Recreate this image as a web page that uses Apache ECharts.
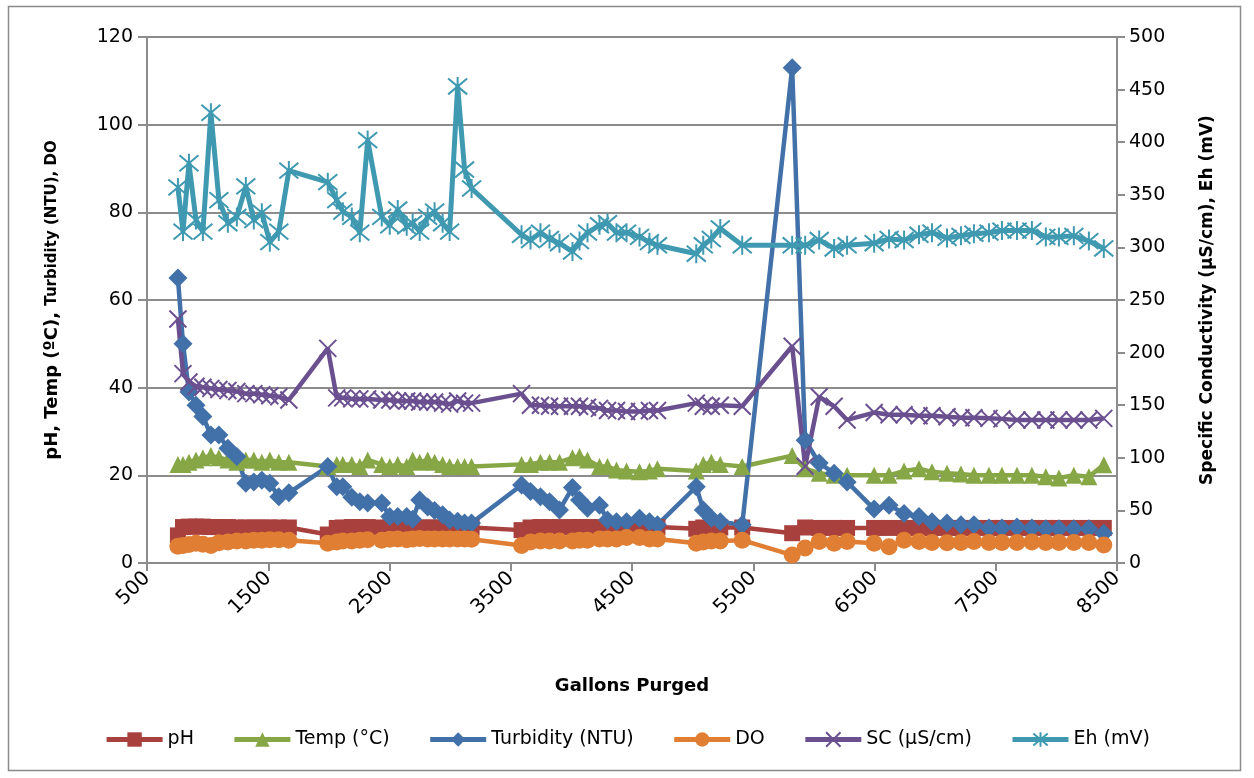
<!DOCTYPE html>
<html>
<head>
<meta charset="utf-8">
<script src="https://cdn.jsdelivr.net/npm/echarts@6/dist/echarts.min.js"></script>
<style>
html,body{margin:0;padding:0;background:#fff;}
#chart{width:1254px;height:778px;}
</style>
</head>
<body>
<div id="chart"></div>
<script>
// Gallons purged (shared x values)
const gallons = [
  755, 797, 846, 904, 961, 1027, 1093, 1167, 1241, 1315, 1381, 1447, 1513, 1587, 1670,
  1991, 2065, 2115, 2189, 2255, 2320, 2436, 2502, 2568, 2642, 2691, 2749, 2815, 2872, 2938, 2996, 3062, 3119, 3177,
  3589, 3663, 3745, 3820, 3902, 4009, 4067, 4133, 4232, 4298, 4372, 4455, 4562, 4644, 4710,
  5030, 5088, 5154, 5228, 5409,
  5821,
  5928, 6044, 6167, 6274, 6497, 6620, 6744, 6867, 6974, 7098, 7213, 7320, 7444, 7551, 7675, 7798, 7913, 8021, 8144, 8268, 8391
];
const pH = [
  6.3, 8.2, 8.3, 8.3, 8.3, 8.2, 8.2, 8.2, 8.1, 8.1, 8.1, 8.1, 8.1, 8.1, 8.1,
  6.5, 8.0, 8.1, 8.2, 8.2, 8.2, 8.1, 8.1, 8.1, 8.1, 8.1, 8.1, 8.1, 8.1, 8.1, 8.1, 8.1, 8.1, 8.1,
  7.5, 8.1, 8.2, 8.2, 8.2, 8.2, 8.2, 8.2, 8.2, 8.2, 8.2, 8.2, 8.2, 8.2, 8.2,
  7.8, 8.1, 8.1, 8.1, 8.1,
  6.8,
  8.1, 8.0, 8.0, 8.0, 8.0, 8.0, 8.0, 8.0, 8.0, 8.0, 8.0, 8.0, 8.0, 8.0, 8.0, 8.0, 8.0, 8.0, 8.0, 8.0, 8.0
];
const temp = [
  22.5, 22.5, 23, 23.5, 24, 24.5, 24, 23.5, 23, 23.5, 23.5, 23, 23.5, 23, 23,
  22, 22.5, 22.5, 22.5, 22, 23.5, 22.5, 22, 22.5, 22, 23.5, 23, 23.5, 23, 22.5, 22, 22, 22, 22,
  22.5, 22.5, 23, 23, 23, 24, 24.3, 23.5, 22, 22, 21.2, 21, 20.8, 21, 21.5,
  21, 22.5, 23, 22.5, 22,
  24.5,
  21.5, 20.5, 20, 20, 20, 20, 21, 21.5, 20.8, 20.5, 20.3, 20, 20, 20, 20, 20, 19.7, 19.4, 20, 19.7, 22.4
];
const turbidity = [
  65, 50, 39, 36, 33.4, 29.2, 29.2, 26.2, 24.3, 18.2, 18.5, 18.9, 18.2, 15.1, 16,
  22, 17.4, 17.4, 15, 14, 13.7, 13.7, 10.6, 10.6, 10.6, 10, 14.4, 12.8, 12, 11, 9.8, 9.5, 9.1, 9.1,
  17.8, 16.3, 15.1, 14, 12.1, 17.2, 14.4, 12.5, 13.2, 9.8, 9.4, 9.4, 10.2, 9.4, 8.7,
  17.4, 12.1, 10.2, 9.4, 8.7,
  113,
  28, 22.8, 20.5, 18.5, 12.3, 13.2, 11.3, 10.6, 9.4, 9.1, 8.7, 8.7, 8, 8, 8.2, 8, 7.8, 7.8, 7.8, 7.8, 6.8
];
const DO = [
  3.8, 4.0, 4.2, 4.5, 4.3, 4.0, 4.6, 4.8, 5.0, 5.0, 5.2, 5.2, 5.3, 5.3, 5.2,
  4.5, 4.8, 5.0, 5.0, 5.2, 5.3, 5.2, 5.4, 5.5, 5.3, 5.5, 5.6, 5.5, 5.5, 5.5, 5.5, 5.5, 5.5, 5.4,
  4.0, 4.8, 5.0, 5.0, 5.0, 5.0, 5.2, 5.2, 5.5, 5.5, 5.5, 5.8, 5.8, 5.5, 5.5,
  4.5, 4.8, 5.0, 5.0, 5.2,
  1.8,
  3.4, 4.9, 4.5, 4.9, 4.5, 3.7, 5.2, 4.9, 4.7, 4.6, 4.7, 4.9, 4.7, 4.7, 4.7, 4.8, 4.7, 4.7, 4.7, 4.7, 4.1
];
const SC = [
  232, 180, 172, 168, 167, 166, 165, 164, 163, 161, 161, 160, 159, 158, 155,
  204, 157, 157, 156, 156, 156, 155, 155, 154, 154, 154, 153, 153, 153, 152, 151, 154, 152, 152,
  161, 150, 150, 149, 149, 149, 149, 148, 147, 145, 145, 144, 144, 145, 145,
  152, 149, 149, 150, 149,
  206,
  92, 158, 149, 136, 143, 141, 141, 140, 140, 139, 138, 138, 137.5, 137, 136, 136, 136, 136, 136, 136, 137.5
];
const Eh = [
  357, 315, 380, 326, 315, 428, 345, 323, 329, 358, 326, 333, 305, 315, 373,
  362, 345, 334, 329, 314, 402, 329, 321, 336, 320, 323, 315, 329, 334, 323, 315, 453, 374, 356,
  312, 307, 314, 308, 304, 296, 306, 314, 321, 323, 314, 314, 310, 305, 302,
  294, 302, 308, 318, 302,
  302,
  302, 307, 299, 302, 304, 308, 307, 312, 314, 309, 311, 313, 314, 316, 316, 316, 310, 310, 311, 306, 299
];
const seriesNames = ['pH', 'Temp (°C)', 'Turbidity (NTU)', 'DO', 'SC (µS/cm)', 'Eh (mV)'];
const leftTicks = {min: 0, max: 120, interval: 20};
const rightTicks = {min: 0, max: 500, interval: 50};
const xTicks = {min: 500, max: 8500, interval: 1000};

const FONT = '"DejaVu Sans", sans-serif';
const pair = arr => gallons.map((g, i) => [g, arr[i]]);

const colors = ['#A8403E', '#87A747', '#4270A8', '#E07F34', '#6B5090', '#3F99B1'];
const crossPath = 'path://M0 0L10 10M10 0L0 10';
const starPath = 'path://M0 0L10 10M10 0L0 10M5 -1L5 11';

function mk(name, data, color, symbol, size, yIdx, extra) {
  return Object.assign({
    name: name,
    type: 'line',
    yAxisIndex: yIdx,
    data: pair(data),
    symbol: symbol,
    symbolSize: size,
    showSymbol: true,
    lineStyle: {color: color, width: 4.5},
    itemStyle: {color: color},
    emphasis: {disabled: true},
    animation: false
  }, extra || {});
}

const chart = echarts.init(document.getElementById('chart'), null, {renderer: 'canvas'});
chart.setOption({
  backgroundColor: '#fff',
  animation: false,
  graphic: [{
    type: 'rect', shape: {x: 8.5, y: 6.5, width: 1232, height: 764},
    style: {fill: 'none', stroke: '#8a8a8a', lineWidth: 1.5}, z: -1
  }],
  grid: {left: 147, right: 137, top: 37, bottom: 215},
  legend: {
    bottom: 24,
    left: 'center',
    itemWidth: 56,
    itemHeight: 18,
    itemGap: 38,
    lineStyle: {width: 5},
    textStyle: {fontFamily: FONT, fontSize: 19, color: '#000'},
    data: seriesNames
  },
  xAxis: {
    type: 'value',
    min: xTicks.min, max: xTicks.max, interval: xTicks.interval,
    name: 'Gallons Purged',
    nameLocation: 'middle',
    nameGap: 114,
    nameTextStyle: {fontFamily: FONT, fontSize: 18, fontWeight: 'bold', color: '#000'},
    axisLine: {show: true, lineStyle: {color: '#8c8c8c', width: 2}},
    axisTick: {show: true, length: 8, lineStyle: {color: '#8c8c8c', width: 2}},
    splitLine: {show: false},
    axisLabel: {rotate: 45, fontFamily: FONT, fontSize: 20, color: '#000', margin: 12,
      formatter: v => String(v)}
  },
  yAxis: [{
    type: 'value',
    min: leftTicks.min, max: leftTicks.max, interval: leftTicks.interval,
    position: 'left',
    name: '{a|pH, Temp (ºC), }{b|Turbidity (NTU), DO}',
    nameLocation: 'middle',
    nameRotate: 90,
    nameGap: 86,
    nameTextStyle: {
      rich: {
        a: {fontFamily: FONT, fontSize: 18, fontWeight: 'bold', color: '#000'},
        b: {fontFamily: FONT, fontSize: 15, fontWeight: 'bold', color: '#000'}
      }
    },
    axisLine: {show: true, lineStyle: {color: '#8c8c8c', width: 2}},
    axisTick: {show: true, length: 9, lineStyle: {color: '#8c8c8c', width: 2}},
    splitLine: {show: true, lineStyle: {color: '#8c8c8c', width: 2}},
    axisLabel: {fontFamily: FONT, fontSize: 19, color: '#000', margin: 14}
  }, {
    type: 'value',
    min: rightTicks.min, max: rightTicks.max, interval: rightTicks.interval,
    position: 'right',
    name: 'Specific Conductivity (µS/cm), Eh (mV)',
    nameLocation: 'middle',
    nameRotate: 90,
    nameGap: 82,
    nameTextStyle: {fontFamily: FONT, fontSize: 17, fontWeight: 'bold', color: '#000'},
    axisLine: {show: true, lineStyle: {color: '#8c8c8c', width: 2}},
    axisTick: {show: true, length: 8, lineStyle: {color: '#8c8c8c', width: 2}},
    splitLine: {show: false},
    axisLabel: {fontFamily: FONT, fontSize: 19, color: '#000', margin: 12}
  }],
  series: [
    mk(seriesNames[0], pH, colors[0], 'rect', 16, 0),
    mk(seriesNames[1], temp, colors[1], 'triangle', 17, 0),
    mk(seriesNames[2], turbidity, colors[2], 'diamond', 19, 0),
    mk(seriesNames[3], DO, colors[3], 'circle', 17, 0),
    mk(seriesNames[4], SC, colors[4], crossPath, 17, 1, {itemStyle: {color: colors[4], borderColor: colors[4], borderWidth: 2}}),
    mk(seriesNames[5], Eh, colors[5], starPath, 19, 1, {itemStyle: {color: colors[5], borderColor: colors[5], borderWidth: 2}, lineStyle: {color: colors[5], width: 5}})
  ]
});
</script>
</body>
</html>
